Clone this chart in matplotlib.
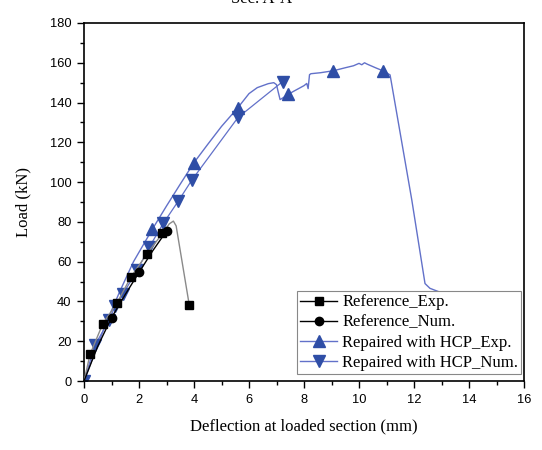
import matplotlib
matplotlib.use("Agg")
import matplotlib.pyplot as plt
from matplotlib.lines import Line2D
from matplotlib.ticker import MultipleLocator

# ---- data ----
ref_exp_line_x = [0, 0.22, 0.68, 1.19, 1.71, 2.28, 2.85, 3.1, 3.25, 3.35, 3.83]
ref_exp_line_y = [0, 13.4, 28.7, 39.0, 52.4, 63.7, 74.2, 79.0, 80.4, 78.0, 38.0]
ref_exp_mk_x = [0.22, 0.68, 1.19, 1.71, 2.28, 2.85, 3.83]
ref_exp_mk_y = [13.4, 28.7, 39.0, 52.4, 63.7, 74.2, 38.0]

ref_num_x = [0, 0.5, 1.0, 1.5, 2.01, 2.5, 3.0, 3.1]
ref_num_y = [0, 17.5, 31.8, 43.5, 54.8, 65.5, 75.4, 76.5]
ref_num_mk_x = [1.0, 2.01, 3.0]
ref_num_mk_y = [31.8, 54.8, 75.4]

hcp_exp_x = [0, 0.3, 0.8, 1.3, 1.8, 2.48, 3.0, 3.5, 4.0, 4.5, 5.0, 5.6, 6.0,
             6.3, 6.5, 6.7, 6.9, 7.0, 7.05, 7.13, 7.25, 7.43, 7.6, 7.8, 8.0,
             8.1, 8.15, 8.2, 8.25, 8.6, 9.07, 9.5, 9.8, 10.0, 10.1, 10.2, 10.3,
             10.6, 10.88, 11.13, 11.92, 12.4, 12.58, 13.07, 13.4]
hcp_exp_y = [0, 11, 29, 45, 60, 76.2, 88, 99, 109.8, 119, 128, 137.5, 144.5,
             147.5, 148.5, 149.5, 150, 149, 146, 141.5, 142.5, 144.1, 145.5,
             147, 148.5, 149.6, 147, 154, 154.5, 155, 156, 157.5, 158.5, 159.7,
             159, 160, 159.3, 157.5, 155.9, 153.9, 91, 49, 46.6, 44, 42.5]
hcp_exp_mk_x = [2.48, 4.0, 5.6, 7.43, 9.07, 10.88]
hcp_exp_mk_y = [76.2, 109.8, 137.1, 144.1, 156.0, 155.9]

hcp_num_x = [0, 0.4, 0.92, 1.13, 1.41, 1.94, 2.38, 2.88, 3.43, 3.92, 5.6, 7.22]
hcp_num_y = [0, 18.1, 30.7, 37.7, 43.6, 55.8, 67.5, 79.2, 90.5, 101.0, 132.5, 150.5]

labels = ["Reference_Exp.", "Reference_Num.", "Repaired with HCP_Exp.",
          "Repaired with HCP_Num."]

# ---- style ----
serif = ["Liberation Serif", "DejaVu Serif"]
sans = ["Liberation Sans", "DejaVu Sans"]
blue_mk = "#2f4ea6"
blue_ln = "#6271c9"

fig = plt.figure(figsize=(5.42, 4.5), dpi=100)
ax = fig.add_axes([0.155, 0.1533, 0.8118, 0.7956])

ax.plot(ref_exp_line_x, ref_exp_line_y, color="#8a8a8a", lw=1.0, zorder=3)
ax.plot(ref_exp_mk_x, ref_exp_mk_y, ls="none", marker="s", ms=6,
        color="black", zorder=5)
ax.plot(ref_num_x, ref_num_y, color="black", lw=1.0, zorder=3)
ax.plot(ref_num_mk_x, ref_num_mk_y, ls="none", marker="o", ms=6,
        color="black", zorder=5)
ax.plot(hcp_exp_x, hcp_exp_y, color=blue_ln, lw=1.0, zorder=2)
ax.plot(hcp_exp_mk_x, hcp_exp_mk_y, ls="none", marker="^", ms=8,
        color=blue_mk, zorder=4)
ax.plot(hcp_num_x, hcp_num_y, color=blue_ln, lw=0.9, zorder=2,
        marker="v", ms=8, mfc=blue_mk, mec=blue_mk)

ax.set_xlim(0, 16)
ax.set_ylim(0, 180)
ax.xaxis.set_major_locator(MultipleLocator(2))
ax.xaxis.set_minor_locator(MultipleLocator(1))
ax.yaxis.set_major_locator(MultipleLocator(20))
ax.yaxis.set_minor_locator(MultipleLocator(10))
ax.tick_params(which="both", direction="out", top=False, right=False,
               width=1.0, color="black")
ax.tick_params(which="major", length=5, pad=4)
ax.tick_params(which="minor", length=3)
for lab in ax.get_xticklabels() + ax.get_yticklabels():
    lab.set_family(sans)
    lab.set_fontsize(9.3)
for s in ax.spines.values():
    s.set_linewidth(1.2)

ax.set_xlabel("Deflection at loaded section (mm)", family=serif, fontsize=12,
              labelpad=9)
ax.set_ylabel("Load (kN)", family=serif, fontsize=12, labelpad=13)

handles = [
    Line2D([], [], color="black", lw=1.0, marker="s", ms=6),
    Line2D([], [], color="black", lw=1.0, marker="o", ms=6),
    Line2D([], [], color=blue_ln, lw=1.0, marker="^", ms=8, mfc=blue_mk, mec=blue_mk),
    Line2D([], [], color=blue_ln, lw=1.0, marker="v", ms=8, mfc=blue_mk, mec=blue_mk),
]
leg = ax.legend(handles, labels, loc="lower right", bbox_to_anchor=(0.994, 0.019),
                borderaxespad=0, prop={"family": serif, "size": 12},
                frameon=True, fancybox=False, framealpha=1, edgecolor="#888888",
                handlelength=2.2, handletextpad=0.3, labelspacing=0.25,
                borderpad=0.2)
leg.get_frame().set_linewidth(0.8)

fig.text(0.483, 0.9933, "Sec. A-A", family=serif, fontsize=12,
         ha="center", va="baseline")

fig.savefig("out.png", dpi=100)
